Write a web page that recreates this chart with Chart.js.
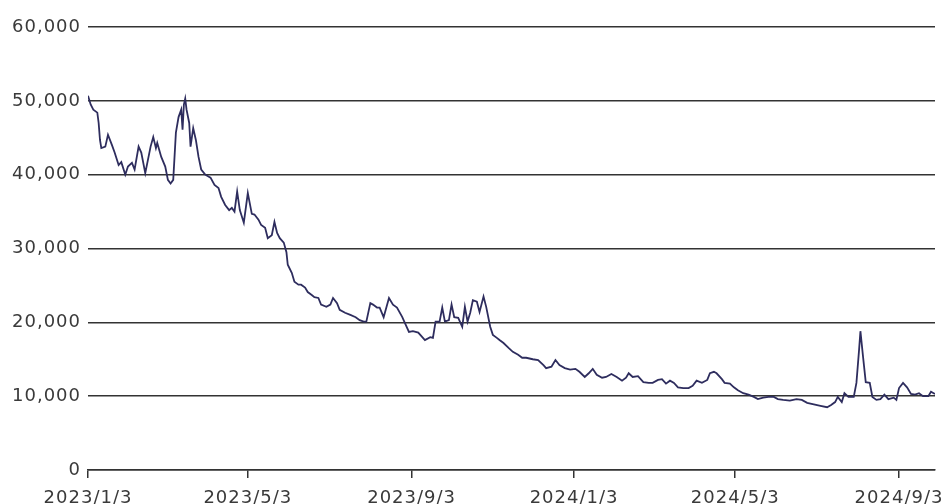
<!DOCTYPE html>
<html>
<head>
<meta charset="utf-8">
<script src="https://cdn.jsdelivr.net/npm/chart.js@4/dist/chart.umd.min.js"></script>
<style>
  html, body { margin: 0; padding: 0; background: #fff; }
  #wrap { width: 947px; height: 504px; }
</style>
</head>
<body>
<div id="wrap"><canvas id="myChart" width="947" height="504"></canvas></div>
<script>
// days counted from 2023/1/3
const days = [
  0, 2, 4, 7, 8, 9, 10, 13, 15, 18, 20, 23, 25, 28, 30, 33, 35, 38, 40, 43,
  47, 49, 51, 52, 55, 58, 60, 62, 64, 66, 68, 70, 71, 72, 73, 74, 76, 77, 79, 81,
  83, 85, 88, 92, 95, 98, 100, 103, 106, 108, 110, 112, 114, 117, 120, 123, 125, 128, 130, 133,
  135, 138, 140, 142, 144, 147, 149, 150, 153, 155, 158, 160, 163, 165, 168, 170, 173, 175, 179, 182,
  184, 187, 189, 193, 197, 201, 204, 207, 209, 212, 214, 217, 219, 222, 226, 229, 232, 236, 238, 241,
  244, 248, 253, 257, 259, 261, 264, 266, 268, 271, 273, 275, 278, 281, 283, 285, 287, 289, 292, 294,
  297, 299, 302, 304, 307, 309, 312, 316, 319, 323, 326, 329, 334, 338, 342, 344, 348, 351, 354, 358,
  362, 366, 369, 373, 376, 379, 382, 386, 389, 393, 397, 401, 404, 406, 409, 413, 417, 421, 424, 428,
  431, 434, 437, 440, 443, 447, 451, 454, 457, 461, 465, 467, 470, 472, 476, 478, 482, 485, 488, 492,
  496, 500, 503, 507, 511, 515, 518, 522, 527, 532, 536, 540, 545, 550, 555, 558, 561, 563, 566, 568,
  571, 575, 577, 579, 580, 582, 584, 587, 589, 592, 595, 598, 601, 605, 607, 609, 612, 615, 618, 621,
  624, 627, 631, 633, 636
];
const prices = [
  50700, 49500, 48800, 48400, 47000, 44700, 43600, 43800, 45400, 44000, 43000, 41300, 41700, 40000, 41100, 41600, 40700, 43800, 43000, 40200,
  43800, 45100, 43600, 44300, 42400, 41100, 39300, 38800, 39300, 45700, 47800, 48800, 46100, 49500, 50300, 48800, 47000, 43800, 46300, 44700,
  42400, 40700, 40000, 39600, 38600, 38200, 37000, 35900, 35200, 35500, 35000, 37700, 35200, 33500, 37500, 34700, 34600, 33900, 33200, 32800,
  31400, 31800, 33600, 32100, 31400, 30800, 29500, 27800, 26700, 25500, 25100, 25100, 24700, 24100, 23700, 23400, 23300, 22400, 22100, 22400,
  23300, 22600, 21700, 21300, 21000, 20700, 20300, 20100, 20100, 22600, 22400, 22000, 22000, 20700, 23300, 22400, 22000, 20700, 19900, 18700,
  18800, 18600, 17600, 18000, 17900, 20100, 20100, 22000, 20100, 20300, 22400, 20700, 20600, 19400, 22100, 20100, 21300, 23000, 22800, 21400,
  23500, 22100, 19400, 18300, 17900, 17600, 17200, 16500, 16000, 15600, 15200, 15200, 15000, 14900, 14200, 13800, 14000, 14900, 14200, 13800,
  13600, 13700, 13300, 12600, 13100, 13700, 12900, 12500, 12600, 13000, 12600, 12100, 12500, 13100, 12600, 12700, 11900, 11800, 11800, 12200,
  12300, 11700, 12100, 11800, 11200, 11100, 11100, 11400, 12100, 11800, 12200, 13100, 13300, 13100, 12300, 11800, 11700, 11200, 10800, 10400,
  10200, 9900, 9600, 9800, 9900, 9900, 9600, 9500, 9400, 9600, 9500, 9100, 8900, 8700, 8500, 8800, 9200, 9900, 9200, 10400,
  9900, 9900, 11800, 16300, 18800, 15300, 11900, 11800, 9900, 9500, 9600, 10200, 9600, 9800, 9500, 11100, 11800, 11200, 10300, 10200,
  10400, 10000, 10000, 10600, 10300
];
const tickDays = [0, 120, 243, 365, 486, 609];
const tickLabels = ['2023/1/3', '2023/5/3', '2023/9/3', '2024/1/3', '2024/5/3', '2024/9/3'];
const yTicks = [0, 10000, 20000, 30000, 40000, 50000, 60000];

const points = days.map((d, i) => ({ x: d, y: prices[i] }));
const labelFont = { family: '"DejaVu Sans", sans-serif', size: 18 };

// the original labels are set a bit wide, so add a little letter spacing
const spacing = {
    id: 'spacing',
    beforeInit: (chart) => { chart.ctx.letterSpacing = '1px'; },
    beforeDraw: (chart) => { chart.ctx.letterSpacing = '1px'; },
};

new Chart(document.getElementById('myChart').getContext('2d'), {
    type: 'line',
    data: {
        datasets: [{
            data: points,
            borderColor: '#2e2d5e',
            borderWidth: 1.8,
            pointRadius: 0,
            tension: 0,
            fill: false,
        }],
    },
    options: {
        responsive: false,
        animation: false,
        layout: { padding: { top: 27, right: 12, left: 0, bottom: 0 } },
        plugins: { legend: { display: false }, tooltip: { enabled: false } },
        scales: {
            x: {
                type: 'linear',
                min: 0,
                max: 636,
                afterBuildTicks: (scale) => {
                    scale.ticks = tickDays.map(v => ({ value: v }));
                },
                afterFit: (scale) => {
                    scale.height = 34;
                    // labels may overhang the edges, like in the original
                    scale.paddingLeft = 0;
                    scale.paddingRight = 0;
                },
                ticks: {
                    autoSkip: false,
                    maxRotation: 0,
                    padding: 10,
                    color: '#3a3a3a',
                    font: labelFont,
                    callback: (value) => {
                        const i = tickDays.indexOf(value);
                        return i >= 0 ? tickLabels[i] : '';
                    },
                },
                grid: {
                    drawOnChartArea: false,
                    drawTicks: true,
                    tickLength: 8,
                    color: '#333',
                    lineWidth: 1.5,
                },
                border: { display: true, color: '#333', width: 1.5 },
            },
            y: {
                min: 0,
                max: 60000,
                afterBuildTicks: (scale) => {
                    scale.ticks = yTicks.map(v => ({ value: v }));
                },
                afterFit: (scale) => { scale.width = 88; },
                ticks: {
                    padding: 7,
                    color: '#3a3a3a',
                    font: labelFont,
                    callback: (value) => value.toLocaleString('en-US'),
                },
                grid: {
                    drawTicks: false,
                    color: '#333',
                    lineWidth: 1.5,
                },
                border: { display: false },
            },
        },
    },
    plugins: [spacing],
});
</script>
</body>
</html>
